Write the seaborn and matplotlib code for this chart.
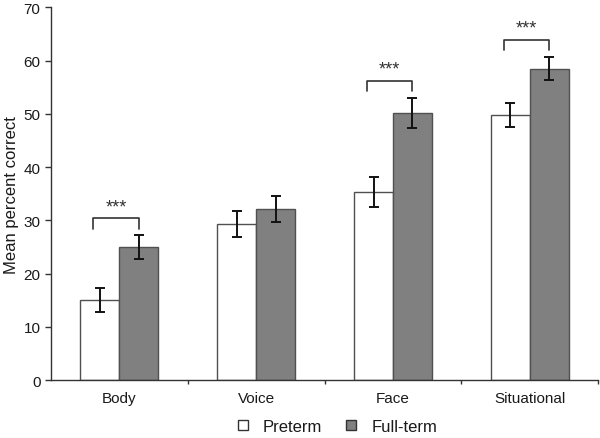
import matplotlib
matplotlib.use("Agg")
import matplotlib.pyplot as plt
import pandas as pd
import seaborn as sns
from matplotlib.lines import Line2D

# Data
categories = ["Body", "Voice", "Face", "Situational"]
preterm = [15.0, 29.3, 35.3, 49.8]
fullterm = [25.0, 32.1, 50.2, 58.5]
preterm_err = [2.2, 2.5, 2.8, 2.2]
fullterm_err = [2.2, 2.4, 2.8, 2.2]
significant = ["Body", "Face", "Situational"]

df = pd.DataFrame({
    "category": categories * 2,
    "group": ["Preterm"] * 4 + ["Full-term"] * 4,
    "value": preterm + fullterm,
    "err": preterm_err + fullterm_err,
})

sns.set_style("white")
plt.rcParams["font.family"] = ["Liberation Sans", "DejaVu Sans"]
txt = "#1a1a1a"

fig = plt.figure(figsize=(6, 4.39), dpi=100)
ax = fig.add_axes([0.085, 0.132, 0.912, 0.849])

sns.barplot(data=df, x="category", y="value", hue="group",
            hue_order=["Preterm", "Full-term"], order=categories,
            palette={"Preterm": "white", "Full-term": "#808080"},
            edgecolor="#505050", linewidth=1, width=0.57,
            errorbar=None, legend=False, ax=ax)

# error bars at bar centres
bars = ax.patches[:8]
xs = [b.get_x() + b.get_width() / 2 for b in bars]
bw = bars[0].get_width()
ax.errorbar(xs, df["value"], yerr=df["err"], fmt="none", ecolor="#111111",
            elinewidth=1.4, capsize=3.5, capthick=1.4)

# significance brackets
for cat in significant:
    i = categories.index(cat)
    x0, x1 = xs[i] - 0.17 * bw, xs[i + 4]
    top = fullterm[i] + fullterm_err[i]
    y0, y1 = top + 1.2, top + 3.2
    ax.plot([x0, x0, x1, x1], [y0, y1, y1, y0], color="#333333", lw=1.2)
    ax.text((x0 + x1) / 2, y1 + 0.6, "***", ha="center", va="bottom",
            fontsize=13, color="#333333")

ax.set_ylim(0, 70)
ax.set_xlim(-0.5, 3.5)
ax.set_yticks(range(0, 71, 10))
ax.set_ylabel("Mean percent correct", fontsize=12, color=txt, labelpad=3)
ax.set_xlabel("")
ax.tick_params(axis="y", length=4, width=1, color="#333333", labelsize=11,
               labelcolor=txt, direction="out", left=True)
ax.tick_params(axis="x", which="major", length=0, labelsize=11, labelcolor=txt, pad=8)
ax.set_xticks([0.5, 1.5, 2.5, 3.5], minor=True)
ax.tick_params(axis="x", which="minor", length=3, width=1, color="#333333", bottom=True)

for s in ["top", "right"]:
    ax.spines[s].set_visible(False)
for s in ["left", "bottom"]:
    ax.spines[s].set_color("#333333")
    ax.spines[s].set_linewidth(1)

handles = [
    Line2D([], [], marker="s", linestyle="none", markersize=7.5,
           markerfacecolor="white", markeredgecolor="#333333", label="Preterm"),
    Line2D([], [], marker="s", linestyle="none", markersize=7.5,
           markerfacecolor="#808080", markeredgecolor="#333333", label="Full-term"),
]
leg = fig.legend(handles=handles, loc="center", bbox_to_anchor=(0.553, 0.026), ncol=2,
                 frameon=False, fontsize=12, handletextpad=0.2, columnspacing=0.75)
for t in leg.get_texts():
    t.set_color(txt)

fig.savefig("out.png", dpi=100)
